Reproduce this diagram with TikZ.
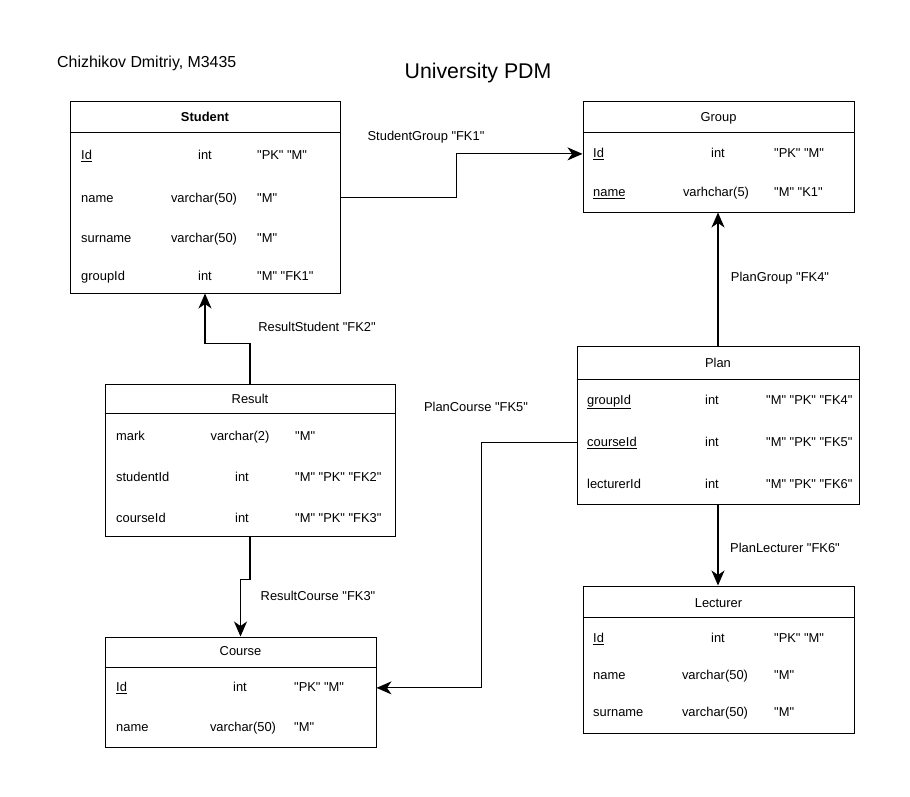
\documentclass[tikz,border=0pt]{standalone}
\usepackage{fontspec}
\setmainfont{Liberation Sans}[Ligatures=TeXOff]
\usetikzlibrary{arrows.meta}

\begin{document}
\begin{tikzpicture}[x=1pt, y=-1pt,
		tbl/.style={draw=black, line width=1pt, fill=white, inner sep=0pt},
		fld/.style={anchor=base west, inner sep=0pt, font=\fontsize{12.9}{15}\selectfont},
		typ/.style={anchor=base, inner sep=0pt, font=\fontsize{12.9}{15}\selectfont},
		fk/.style={black, line width=1.2pt, -{Stealth[length=15pt, width=13pt, inset=4.5pt]}}]
		\useasboundingbox (0,0) rectangle (910,797);
		\node at (57,68) [anchor=base west, inner sep=0pt, font=\fontsize{15.9}{18}\selectfont] (author) {Chizhikov Dmitriy, M3435};
		\node at (478,79) [anchor=base, inner sep=0pt, font=\fontsize{21.3}{24}\selectfont] (title) {University PDM};

		\node at (205,197.5) [tbl, minimum width=270, minimum height=191] (student) {};
		\draw [black, line width=1pt] (student.west |- 0,133) -- (student.east |- 0,133);
		\node at (205,121.5) [typ] (studentT) {\bfseries Student};
		\node at (81,159.5) [fld] (sid) {\underline{Id}};
		\node at (205,159.5) [typ] {int};
		\node at (257,159.5) [fld] {"PK" "M"};
		\node at (81,202.5) [fld] (sname) {name};
		\node at (204,202.5) [typ] {varchar(50)};
		\node at (257,202.5) [fld] {"M"};
		\node at (81,242.5) [fld] (ssurname) {surname};
		\node at (204,242.5) [typ] {varchar(50)};
		\node at (257,242.5) [fld] {"M"};
		\node at (81,280.5) [fld] (sgroup) {groupId};
		\node at (205,280.5) [typ] {int};
		\node at (257,280.5) [fld] {"M" "FK1"};

		\node at (718.5,157) [tbl, minimum width=271, minimum height=110] (group) {};
		\draw [black, line width=1pt] (group.west |- 0,133) -- (group.east |- 0,133);
		\node at (718.5,121.5) [typ] (groupT) {Group};
		\node at (593,157.5) [fld] (gid) {\underline{Id}};
		\node at (718,157.5) [typ] {int};
		\node at (774,157.5) [fld] {"PK" "M"};
		\node at (593,196.5) [fld] (gname) {\underline{name}};
		\node at (716,196.5) [typ] {varhchar(5)};
		\node at (774,196.5) [fld] {"M" "K1"};

		\node at (718,425) [tbl, minimum width=282, minimum height=158] (plan) {};
		\draw [black, line width=1pt] (plan.west |- 0,379) -- (plan.east |- 0,379);
		\node at (718,367.5) [typ] (planT) {Plan};
		\node at (587,404.5) [fld] (pgroup) {\underline{groupId}};
		\node at (712,404.5) [typ] {int};
		\node at (766,404.5) [fld] {"M" "PK" "FK4"};
		\node at (587,446.5) [fld] (pcourse) {\underline{courseId}};
		\node at (712,446.5) [typ] {int};
		\node at (766,446.5) [fld] {"M" "PK" "FK5"};
		\node at (587,488.5) [fld] (plecturer) {lecturerId};
		\node at (712,488.5) [typ] {int};
		\node at (766,488.5) [fld] {"M" "PK" "FK6"};

		\node at (250,460) [tbl, minimum width=290, minimum height=152] (result) {};
		\draw [black, line width=1pt] (result.west |- 0,413) -- (result.east |- 0,413);
		\node at (250,403.5) [typ] (resultT) {Result};
		\node at (116,440.5) [fld] (rmark) {mark};
		\node at (240,440.5) [typ] {varchar(2)};
		\node at (295,440.5) [fld] {"M"};
		\node at (116,481.5) [fld] (rstudent) {studentId};
		\node at (242,481.5) [typ] {int};
		\node at (295,481.5) [fld] {"M" "PK" "FK2"};
		\node at (116,522.5) [fld] (rcourse) {courseId};
		\node at (242,522.5) [typ] {int};
		\node at (295,522.5) [fld] {"M" "PK" "FK3"};

		\node at (240.5,692) [tbl, minimum width=271, minimum height=110] (course) {};
		\draw [black, line width=1pt] (course.west |- 0,667) -- (course.east |- 0,667);
		\node at (240.5,655.5) [typ] (courseT) {Course};
		\node at (116,691.5) [fld] (cid) {\underline{Id}};
		\node at (240,691.5) [typ] {int};
		\node at (294,691.5) [fld] {"PK" "M"};
		\node at (116,731.5) [fld] (cname) {name};
		\node at (243,731.5) [typ] {varchar(50)};
		\node at (294,731.5) [fld] {"M"};

		\node at (718.5,659.5) [tbl, minimum width=271, minimum height=147] (lecturer) {};
		\draw [black, line width=1pt] (lecturer.west |- 0,617) -- (lecturer.east |- 0,617);
		\node at (718.5,607.5) [typ] (lecturerT) {Lecturer};
		\node at (593,642.5) [fld] (lid) {\underline{Id}};
		\node at (718,642.5) [typ] {int};
		\node at (774,642.5) [fld] {"PK" "M"};
		\node at (593,679.5) [fld] (lname) {name};
		\node at (715,679.5) [typ] {varchar(50)};
		\node at (774,679.5) [fld] {"M"};
		\node at (593,716.5) [fld] (lsurname) {surname};
		\node at (715,716.5) [typ] {varchar(50)};
		\node at (774,716.5) [fld] {"M"};

		\draw [fk] (student.east) -- ++(116,0) |- (group.west |- gid);
		\draw [fk] (result.north) -- ++(0,-40) -| (student.south);
		\draw [fk] (result.south) -- ++(0,43) -| (course.north);
		\draw [fk] (plan.north) -- (plan.north |- group.south);
		\draw [fk] (plan.west |- pcourse) -- ++(-95,0) |- (course.east |- cid);
		\draw [fk] (plan.south) -- (plan.south |- lecturer.north);

		\node at (426,140.5) [typ] (fk1) {StudentGroup "FK1"};
		\node at (317,331.5) [typ] (fk2) {ResultStudent "FK2"};
		\node at (318,600.5) [typ] (fk3) {ResultCourse "FK3"};
		\node at (780,281.5) [typ] (fk4) {PlanGroup "FK4"};
		\node at (476,411.5) [typ] (fk5) {PlanCourse "FK5"};
		\node at (785,552.5) [typ] (fk6) {PlanLecturer "FK6"};
	\end{tikzpicture}
\end{document}
